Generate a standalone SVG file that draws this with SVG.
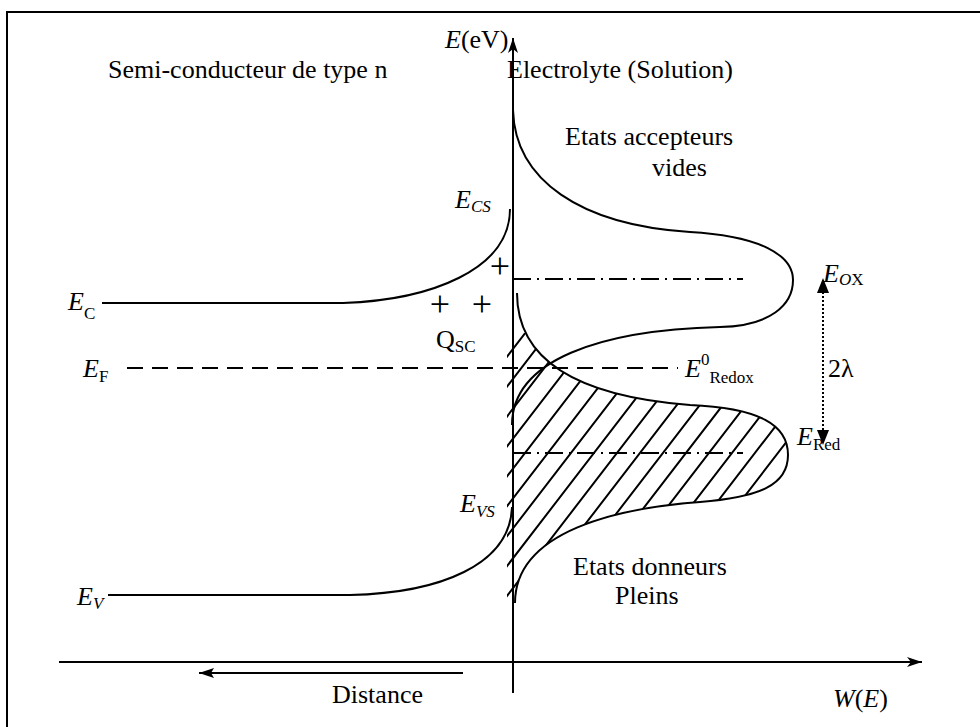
<svg xmlns="http://www.w3.org/2000/svg" width="980" height="727" viewBox="0 0 980 727" font-family="'Liberation Serif', 'Times New Roman', serif">
<style>
  text { font-family: "Liberation Serif", "Times New Roman", serif; font-size: 26px; fill: #000; }
  .it { font-style: italic; }
  .sub { font-size: 17px; }
  .plus { font-size: 36px; }
  .ln { fill: none; stroke: #000; stroke-width: 2; }
  .dash { fill: none; stroke: #000; stroke-width: 2; stroke-dasharray: 16 9; }
  .dashdot { fill: none; stroke: #000; stroke-width: 2; stroke-dasharray: 18 6 2 6; }
  .hatch { fill: none; stroke: #000; stroke-width: 2; }
</style>
<defs>
  <marker id="axisArrow" markerUnits="userSpaceOnUse" markerWidth="16" markerHeight="12" refX="15" refY="5" orient="auto">
    <path d="M0,0 L15,5 L0,10 L4,5 Z" fill="#000"/>
  </marker>
  <marker id="solidArrow" markerUnits="userSpaceOnUse" markerWidth="16" markerHeight="12" refX="15" refY="5" orient="auto">
    <path d="M0,0 L15,5 L0,10 L3,5 Z" fill="#000"/>
  </marker>
  <clipPath id="redClip">
    <path d="M507,300 L517,293 C517,350 560,395 690,405 C760,408 788,425 788,455 C788,485 760,497 700,502 C620,508 515,530 515,603 L507,603 Z"/>
  </clipPath>
  <clipPath id="topClip">
    <rect x="500" y="333" width="300" height="280"/>
  </clipPath>
</defs>

<rect x="7" y="12" width="990" height="730" fill="#fff" stroke="#000" stroke-width="2"/>

<g id="connectors">
  <line class="ln" x1="513" y1="693" x2="513" y2="38" marker-end="url(#axisArrow)"/>
  <line class="ln" x1="59" y1="662" x2="922" y2="662" marker-end="url(#axisArrow)"/>
  <line class="ln" x1="463" y1="673" x2="199" y2="673" marker-end="url(#solidArrow)"/>
  <line x1="823" y1="292" x2="823" y2="431" stroke="#000" stroke-width="2" stroke-dasharray="2 2"/>
  <path d="M823,278 L829,293 L817,293 Z" fill="#000"/>
  <path d="M823,445 L829,430 L817,430 Z" fill="#000"/>
</g>

<g id="band-conduction">
  <path class="ln" d="M102,303 L343,303 C430,300 510,270 510,209"/>
</g>
<g id="band-valence">
  <path class="ln" d="M108,595 L350,595 C440,593 510,565 512,507"/>
</g>
<g id="fermi-level">
  <line class="dash" x1="127" y1="368" x2="678" y2="368"/>
</g>
<g id="level-ox">
  <line class="dashdot" x1="513" y1="279" x2="743" y2="279"/>
</g>
<g id="level-red">
  <line class="dashdot" x1="513" y1="453" x2="743" y2="453"/>
</g>

<g id="dist-ox">
  <path class="ln" d="M513,110 C515,180 580,225 690,232 C760,236 793,255 793,280 C793,305 770,326 720,327 C600,330 512,360 512,425"/>
</g>

<g id="dist-red">
  <g clip-path="url(#topClip)">
    <g clip-path="url(#redClip)">
      <path class="hatch" d="M235.5,620 L497,280 M258.5,620 L520,280 M281.5,620 L543,280 M304.5,620 L566,280 M327.5,620 L589,280 M350.5,620 L612,280 M373.5,620 L635,280 M396.5,620 L658,280 M419.5,620 L681,280 M442.5,620 L704,280 M465.5,620 L727,280 M488.5,620 L750,280 M511.5,620 L773,280 M534.5,620 L796,280 M557.5,620 L819,280 M580.5,620 L842,280 M603.5,620 L865,280 M626.5,620 L888,280 M649.5,620 L911,280 M672.5,620 L934,280 M695.5,620 L957,280 M718.5,620 L980,280 M741.5,620 L1003,280 M764.5,620 L1026,280"/>
    </g>
  </g>
  <path class="ln" d="M517,293 C517,350 560,395 690,405 C760,408 788,425 788,455 C788,485 760,497 700,502 C620,508 515,530 515,603"/>
</g>

<g id="labels">
  <text x="445" y="48"><tspan class="it">E</tspan>(eV)</text>
  <text x="108" y="78">Semi-conducteur de type n</text>
  <text x="507" y="78">Electrolyte (Solution)</text>
  <text x="565" y="145">Etats accepteurs</text>
  <text x="652" y="176">vides</text>
  <text x="455" y="208"><tspan class="it">E</tspan><tspan class="it sub" dy="4">CS</tspan></text>
  <text class="plus" x="500" y="278" text-anchor="middle">+</text>
  <text class="plus" x="440" y="316" text-anchor="middle">+</text>
  <text class="plus" x="482" y="316" text-anchor="middle">+</text>
  <text x="436" y="348">Q<tspan class="sub" dy="4">SC</tspan></text>
  <text x="68" y="310"><tspan class="it">E</tspan><tspan class="sub" dy="9">C</tspan></text>
  <text x="83" y="377"><tspan class="it">E</tspan><tspan class="sub" dy="5">F</tspan></text>
  <text x="685" y="377"><tspan class="it">E</tspan><tspan class="sub" dy="-12">0</tspan><tspan class="sub" dy="18">Redox</tspan></text>
  <text x="823" y="282"><tspan class="it">E</tspan><tspan class="it sub" dy="3">O</tspan><tspan class="sub">X</tspan></text>
  <text x="828" y="377">2λ</text>
  <text x="797" y="445"><tspan class="it">E</tspan><tspan class="sub" dy="5">Red</tspan></text>
  <text x="460" y="512"><tspan class="it">E</tspan><tspan class="it sub" dy="5">VS</tspan></text>
  <text x="77" y="605"><tspan class="it">E</tspan><tspan class="it sub" dy="4">V</tspan></text>
  <text x="573" y="575">Etats donneurs</text>
  <text x="615" y="604">Pleins</text>
  <text x="332" y="703">Distance</text>
  <text x="833" y="707"><tspan class="it">W</tspan>(<tspan class="it">E</tspan>)</text>
</g>
</svg>
